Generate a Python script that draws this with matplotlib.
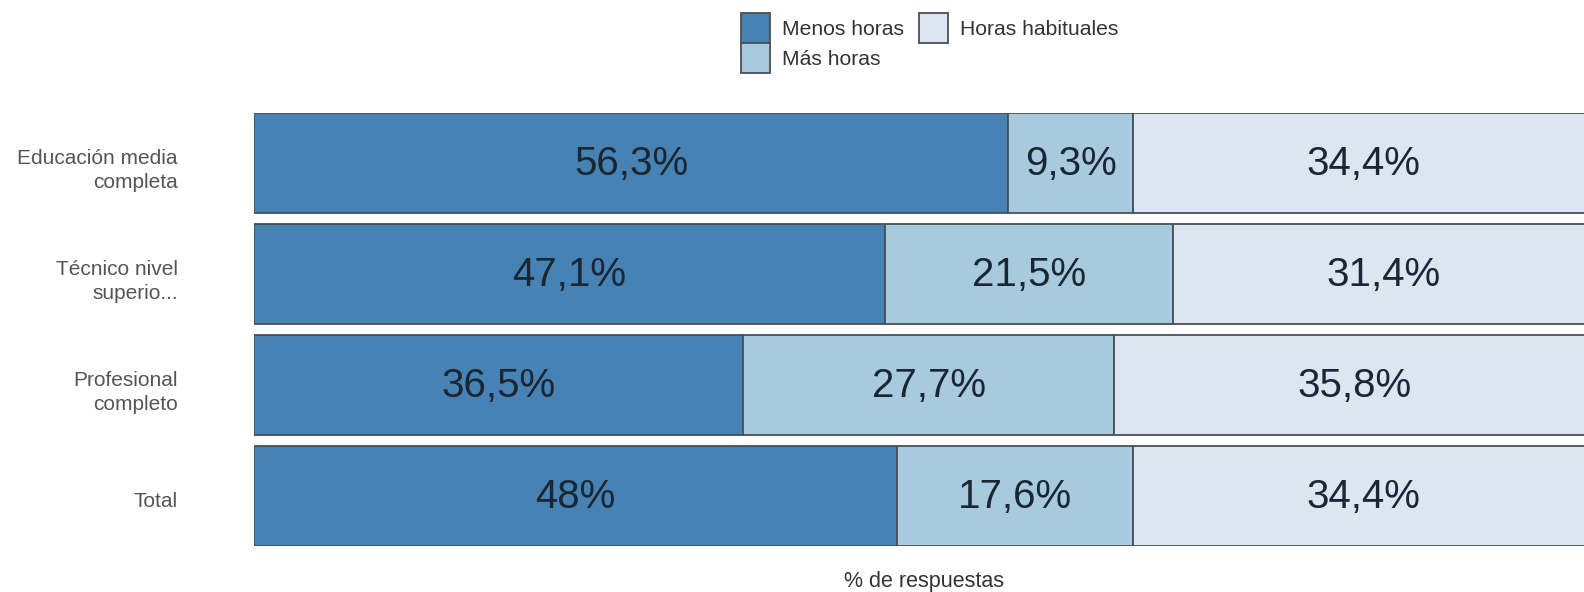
import matplotlib
matplotlib.use('Agg')
import matplotlib.pyplot as plt
import numpy as np

plt.rcParams['font.family'] = ['Liberation Sans', 'DejaVu Sans']

# data
categories = ['Educación media\ncompleta', 'Técnico nivel\nsuperio...', 'Profesional\ncompleto', 'Total']
series_names = ['Menos horas', 'Más horas', 'Horas habituales']
menos_horas = [56.3, 47.1, 36.5, 48.0]
mas_horas = [9.3, 21.5, 27.7, 17.6]
horas_habituales = [34.4, 31.4, 35.8, 34.4]

series_values = [menos_horas, mas_horas, horas_habituales]
series_colors = ['#4682b4', '#a7cadf', '#dce6f1']


def fmt_pct(v):
    if abs(v - round(v)) < 1e-9:
        return '%d%%' % round(v)
    return ('%.1f' % v).replace('.', ',') + '%'


fig = plt.figure(figsize=(15.84, 5.92), dpi=100)
ax = fig.add_axes([254 / 1584, 1 - 546 / 592, 1340 / 1584, 433 / 592])

y = np.arange(len(categories))
left = np.zeros(len(categories))
bars = []
for name, vals, col in zip(series_names, series_values, series_colors):
    b = ax.barh(y, vals, left=left, height=0.9, color=col, edgecolor='#4a4f55',
                linewidth=1.3, label=name)
    bars.append(b)
    for yi, (l, v) in enumerate(zip(left, vals)):
        ax.text(l + v / 2, yi + 0.01, fmt_pct(v), ha='center', va='center',
                fontsize=29, color='#1b2633')
    left = left + np.array(vals)

ax.set_xlim(0, 100)
ax.set_ylim(3.45, -0.45)
ax.set_yticks(y + 0.03)
ax.set_yticklabels(categories, fontsize=15, color='#555555', linespacing=1.3)
ax.tick_params(axis='y', length=0, pad=55)
ax.set_xticks([])
for s in ax.spines.values():
    s.set_visible(False)

ax.set_xlabel('% de respuestas', fontsize=15.5, color='#333333', labelpad=18)

fig.legend(handles=bars, labels=series_names, loc='upper left',
           bbox_to_anchor=(741 / 1584, 1 - 13 / 592), ncol=2, frameon=False,
           fontsize=15.2, borderpad=0, borderaxespad=0, handlelength=1.38,
           handleheight=1.82, labelspacing=0, handletextpad=0.57,
           columnspacing=0.7, labelcolor='#333333')

fig.savefig('out.png', dpi=100)
